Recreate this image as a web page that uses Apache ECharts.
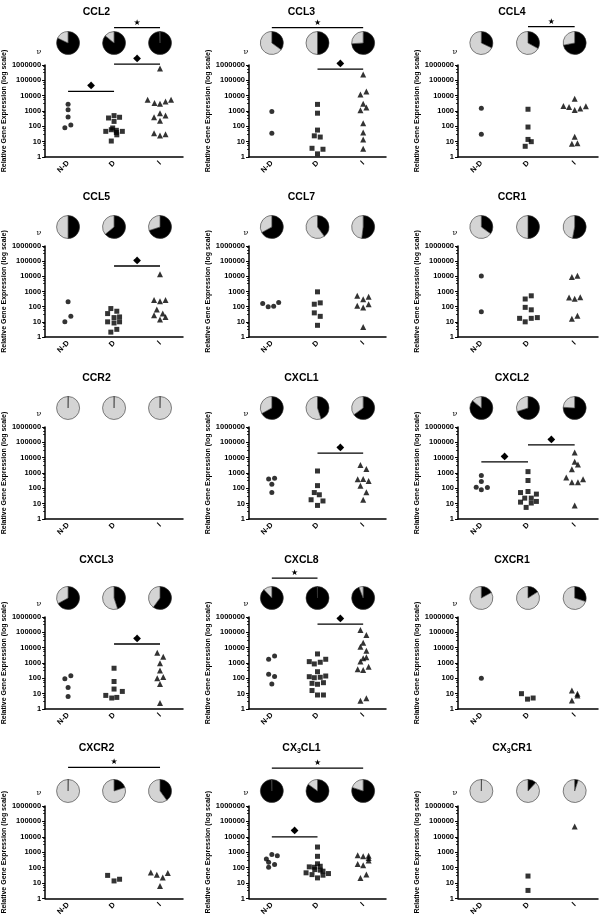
<!DOCTYPE html>
<html><head><meta charset="utf-8">
<script src="https://cdn.jsdelivr.net/npm/echarts@6/dist/echarts.min.js"></script>
<style>html,body{margin:0;padding:0;background:#fff}#c{width:600px;height:918px}</style>
</head><body><div id="c"></div>
<script>
// ---------- DATA ----------
const CATS = ['N-D', 'D', 'I'];
const GENES = ['CCL2','CCL3','CCL4','CCL5','CCL7','CCR1','CCR2','CXCL1','CXCL2','CXCL3','CXCL8','CXCR1','CXCR2','CX3CL1','CX3CR1'];
const TITLES = ['CCL2','CCL3','CCL4','CCL5','CCL7','CCR1','CCR2','CXCL1','CXCL2','CXCL3','CXCL8','CXCR1','CXCR2','CX{s|3}CL1','CX{s|3}CR1'];

// points: [relative expression, horizontal jitter in category units]
const CCL2_ND = [[2800,0],[1200,0],[400,0],[120,0.06],[80,-0.07]];
const CCL2_D  = [[500,0],[390,0.12],[350,-0.12],[210,0],[78,-0.03],[60,-0.06],[55,0.05],[47,-0.18],[47,0.18],[40,0.05],[28,0.06],[11,-0.06]];
const CCL2_I  = [[600000,0],[5500,-0.27],[3300,-0.12],[3000,0],[4200,0.12],[5500,0.24],[710,0],[390,-0.13],[500,0.12],[235,0],[36,-0.13],[25,0],[31,0.12]];

const CCL3_ND = [[930,0],[35,0]];
const CCL3_D  = [[2700,0],[720,0],[57,0],[24,-0.07],[20,0.06],[3.7,-0.12],[3.2,0.12],[1.6,0]];
const CCL3_I  = [[240000,0],[19000,0.07],[11700,-0.06],[3000,0],[1700,0.07],[1130,-0.06],[158,0],[40,0],[14,0],[3.5,0]];

const CCL4_ND = [[1500,0],[30,0]];
const CCL4_D  = [[1300,0],[90,0],[14,0],[10,0.07],[5,-0.06]];
const CCL4_I  = [[6300,0],[2100,-0.24],[1850,-0.12],[1180,0],[1450,0.12],[2050,0.24],[21,0],[7.3,-0.06],[8,0.06]];

const CCL5_ND = [[210,0],[23,0.06],[10,-0.07]];
const CCL5_D  = [[75,-0.07],[50,0.06],[35,-0.14],[19,0],[21,0.12],[10,-0.14],[8.4,0],[10,0.12],[3.2,0.06],[2.1,-0.07]];
const CCL5_I  = [[13500,0],[270,-0.13],[230,0],[270,0.12],[65,-0.07],[35,0.06],[27,-0.13],[14,0],[21,0.12]];

const CCL7_ND = [[160,-0.2],[97,-0.08],[107,0.04],[188,0.15]];
const CCL7_D  = [[950,0],[145,-0.07],[178,0.06],[39,-0.07],[23,0.06],[5.9,0]];
const CCL7_I  = [[520,-0.13],[310,0],[445,0.12],[113,-0.13],[87,0],[145,0.12],[4.6,0]];

const CCR1_ND = [[10500,0],[46,0]];
const CCR1_D  = [[320,-0.06],[520,0.07],[90,-0.06],[62,0.07],[17,-0.18],[10,-0.06],[17,0.07],[19,0.2]];
const CCR1_I  = [[9000,-0.06],[11000,0.06],[400,-0.12],[330,0],[420,0.12],[16,-0.06],[25,0.06]];

const CCR2_ND = [];
const CCR2_D  = [];
const CCR2_I  = [];

const CXCL1_ND = [[410,-0.07],[455,0.06],[185,0],[53,0]];
const CXCL1_D  = [[1350,0],[150,0],[53,-0.07],[38,0.04],[18,-0.14],[15,0.12],[7.7,0]];
const CXCL1_I  = [[3300,-0.06],[1830,0.07],[390,-0.12],[410,0],[305,0.12],[150,-0.06],[56,0.07],[18,0]];

const CXCL2_ND = [[680,0],[275,0],[118,-0.11],[112,0.13],[80,0]];
const CXCL2_D  = [[1230,0],[325,0],[53,-0.16],[62,0],[42,0.18],[23,-0.07],[23,0.07],[12.6,-0.16],[14,0.18],[11,0.07],[5.7,-0.04]];
const CXCL2_I  = [[22000,0],[5500,0],[3600,0.07],[1750,-0.06],[500,-0.18],[250,-0.06],[250,0.07],[390,0.18],[7.7,0]];

const CXCL3_ND = [[93,-0.07],[150,0.06],[25,0],[6.6,0]];
const CXCL3_D  = [[455,0],[62,0],[20,0],[7.7,-0.18],[5.2,-0.05],[5.7,0.06],[14,0.18]];
const CXCL3_I  = [[4700,-0.06],[2600,0.07],[960,0],[320,0],[102,-0.06],[120,0.07],[42,0],[2.5,0]];

const CXCL8_ND = [[1740,-0.07],[2900,0.06],[185,-0.07],[130,0.06],[42,0]];
const CXCL8_D  = [[3900,0],[1230,-0.18],[870,-0.07],[1120,0.06],[1750,0.18],[270,0],[128,-0.18],[110,-0.07],[117,0.06],[142,0.18],[47,-0.12],[41,0],[52,0.13],[16,-0.12],[8.2,0],[8.2,0.13]];
const CXCL8_I  = [[142000,-0.06],[67000,0.07],[21000,0],[11500,-0.06],[6300,0.07],[2030,0],[2350,0.07],[1230,-0.06],[390,-0.12],[350,0],[575,0.12],[3.5,-0.06],[5,0.07]];

const CXCR1_ND = [[100,0]];
const CXCR1_D  = [[10,-0.14],[4.4,-0.01],[5.2,0.11]];
const CXCR1_I  = [[16,-0.06],[10,0.06],[7.5,0.06],[3.6,-0.06]];

const CXCR2_ND = [];
const CXCR2_D  = [[32,-0.14],[14,0],[18,0.12]];
const CXCR2_I  = [[50,-0.2],[35,-0.07],[23,0.06],[46,0.17],[6.6,0]];

const CX3CL1_ND = [[370,-0.12],[710,0],[610,0.12],[228,-0.07],[160,0.06],[108,-0.07]];
const CX3CL1_D  = [[2200,0],[550,0],[180,0],[125,0.06],[108,-0.07],[70,0.06],[76,-0.06],[60,0.12],[114,-0.18],[47,-0.25],[36,-0.12],[22,0],[33,0.12],[42,0.24]];
const CX3CL1_I  = [[640,-0.12],[550,0],[610,0.12],[430,0.12],[290,0.12],[178,-0.12],[145,0],[36,0.07],[22,-0.06]];

const CX3CR1_ND = [];
const CX3CR1_D  = [[29,0],[3.4,0]];
const CX3CR1_I  = [[47000,0]];

// percent of samples expressing (black slice) for N-D, D, I
const PIE_CCL2 = [82, 86, 100];
const PIE_CCL3 = [35, 50, 74];
const PIE_CCL4 = [32, 33, 72];
const PIE_CCL5 = [50, 64, 70];
const PIE_CCL7 = [67, 40, 52];
const PIE_CCR1 = [35, 50, 53];
const PIE_CCR2 = [0, 0, 0];
const PIE_CXCL1 = [67, 45, 65];
const PIE_CXCL2 = [86, 70, 76];
const PIE_CXCL3 = [67, 45, 60];
const PIE_CXCL8 = [88, 100, 94];
const PIE_CXCR1 = [17, 16, 30];
const PIE_CXCR2 = [0, 20, 40];
const PIE_CX3CL1 = [100, 85, 80];
const PIE_CX3CR1 = [0, 12, 5];

// significance annotations: [gene, from, to, symbol, level as log10 of the axis value]
const SIG = [
  ['CCL2','D','I','★',8.44], ['CCL2','D','I','◆',6.06], ['CCL2','N-D','D','◆',4.28],
  ['CCL3','N-D','I','★',8.44], ['CCL3','D','I','◆',5.73],
  ['CCL4','D','I','★',8.5],
  ['CCL5','D','I','◆',4.68],
  ['CXCL1','D','I','◆',4.3],
  ['CXCL2','N-D','D','◆',3.72], ['CXCL2','D','I','◆',4.83],
  ['CXCL3','D','I','◆',4.24],
  ['CXCL8','N-D','D','★',8.54], ['CXCL8','D','I','◆',5.54],
  ['CXCR2','N-D','I','★',8.5],
  ['CX3CL1','N-D','I','★',8.45], ['CX3CL1','N-D','D','◆',4.0]
];

const PANELS = [
  [CCL2_ND, CCL2_D, CCL2_I, PIE_CCL2], [CCL3_ND, CCL3_D, CCL3_I, PIE_CCL3], [CCL4_ND, CCL4_D, CCL4_I, PIE_CCL4],
  [CCL5_ND, CCL5_D, CCL5_I, PIE_CCL5], [CCL7_ND, CCL7_D, CCL7_I, PIE_CCL7], [CCR1_ND, CCR1_D, CCR1_I, PIE_CCR1],
  [CCR2_ND, CCR2_D, CCR2_I, PIE_CCR2], [CXCL1_ND, CXCL1_D, CXCL1_I, PIE_CXCL1], [CXCL2_ND, CXCL2_D, CXCL2_I, PIE_CXCL2],
  [CXCL3_ND, CXCL3_D, CXCL3_I, PIE_CXCL3], [CXCL8_ND, CXCL8_D, CXCL8_I, PIE_CXCL8], [CXCR1_ND, CXCR1_D, CXCR1_I, PIE_CXCR1],
  [CXCR2_ND, CXCR2_D, CXCR2_I, PIE_CXCR2], [CX3CL1_ND, CX3CL1_D, CX3CL1_I, PIE_CX3CL1], [CX3CR1_ND, CX3CR1_D, CX3CR1_I, PIE_CX3CR1]
];

// ---------- LAYOUT ----------
const FONT = '"Liberation Sans", Arial, sans-serif';
const COL_LEFT = [42, 249, 458], COL_W = [141, 137, 140];
const ROW_TOP = [65, 246, 427, 617, 806], ROW_BOT = [157, 337, 519, 709, 899];
const TITLE_Y = [12, 197, 378, 560, 748], PIE_Y = [43, 227, 408, 598, 791];
const SYMBOLS = ['circle', 'rect', 'triangle'], SIZES = [5, 5, 6];

const chart = echarts.init(document.getElementById('c'), null, {renderer: 'canvas'});
const grid = [], xAxis = [], yAxis = [], series = [];
PANELS.forEach((p, i) => {
  const row = Math.floor(i / 3), col = i % 3;
  grid.push({left: COL_LEFT[col], width: COL_W[col], top: ROW_TOP[row], height: ROW_BOT[row] - ROW_TOP[row]});
  xAxis.push({type: 'category', gridIndex: i, data: CATS, boundaryGap: true,
    axisLine: {onZero: false, lineStyle: {color: '#000', width: 1.5}},
    axisTick: {alignWithLabel: true, length: 3, lineStyle: {color: '#000', width: 1.2}},
    axisLabel: {rotate: 45, fontSize: 7.5, fontWeight: 'bold', color: '#000', fontFamily: FONT, margin: 5},
    splitLine: {show: false}});
  xAxis.push({type: 'value', gridIndex: i, min: -0.5, max: 2.5, show: false});
  yAxis.push({type: 'log', logBase: 10, gridIndex: i, min: 1, max: 1000000, splitNumber: 6,
    axisLine: {show: true, onZero: false, lineStyle: {color: '#000', width: 1.5}},
    axisTick: {show: true, length: 3, lineStyle: {color: '#000', width: 1}},
    minorTick: {show: true, splitNumber: 4, length: 2, lineStyle: {color: '#000', width: 0.8}},
    splitLine: {show: false},
    axisLabel: {fontSize: 7.5, fontWeight: 'bold', color: '#000', fontFamily: FONT, margin: 4,
      formatter: v => String(Math.round(v))},
    name: 'Relative Gene Expression (log scale)', nameLocation: 'middle', nameGap: 33,
    nameTextStyle: {fontSize: 7, fontWeight: 'bold', color: '#000', fontFamily: FONT}});
  [0, 1, 2].forEach(g => {
    series.push({type: 'scatter', xAxisIndex: 2 * i + 1, yAxisIndex: i, symbol: SYMBOLS[g], symbolSize: SIZES[g],
      itemStyle: {color: '#000'}, silent: true, animation: false, clip: false,
      data: p[g].map(([v, dx]) => [g + dx, v])});
  });
});
chart.setOption({animation: false, grid, xAxis, yAxis, series});

// pies and annotations positioned through the axes
const graphic = [];
const allSeries = series.slice();
PANELS.forEach((p, i) => {
  const row = Math.floor(i / 3), col = i % 3;
  CATS.forEach((c, g) => {
    const x = chart.convertToPixel({xAxisIndex: 2 * i}, c);
    allSeries.push({type: 'pie', center: [x, PIE_Y[row]], radius: 11.5, startAngle: 90, clockwise: true,
      minAngle: 1, silent: true, animation: false, label: {show: false}, labelLine: {show: false},
      itemStyle: {borderColor: '#333', borderWidth: 0.6},
      data: [{value: p[3][g], itemStyle: {color: '#000'}}, {value: 100 - p[3][g], itemStyle: {color: '#d4d4d4'}}]});
  });
  const cx = COL_LEFT[col] + COL_W[col] / 2 - 16;
  graphic.push({type: 'text', x: cx, y: TITLE_Y[row], silent: true,
    style: {text: TITLES[i], fill: '#000', fontFamily: FONT, fontSize: 10.5, fontWeight: 'bold',
      align: 'center', verticalAlign: 'middle',
      rich: {s: {fontSize: 7, fontWeight: 'bold', fontFamily: FONT, fill: '#000', padding: [6, 0, 0, 0]}}}});
  graphic.push({type: 'text', x: COL_LEFT[col] - 3, y: ROW_TOP[row] - 13, silent: true,
    style: {text: 'ν', fill: '#000', fontFamily: '"DejaVu Serif", serif', fontSize: 8, align: 'center', verticalAlign: 'middle'}});
});
SIG.forEach(([gene, a, b, sym, lvl]) => {
  const i = GENES.indexOf(gene);
  const x1 = chart.convertToPixel({xAxisIndex: 2 * i}, a);
  const x2 = chart.convertToPixel({xAxisIndex: 2 * i}, b);
  const y = chart.convertToPixel({yAxisIndex: i}, Math.pow(10, lvl));
  graphic.push({type: 'line', silent: true, shape: {x1: x1, y1: y, x2: x2, y2: y}, style: {stroke: '#000', lineWidth: 1.3}});
  const star = sym === '★';
  graphic.push({type: 'text', silent: true, x: (x1 + x2) / 2, y: y - (star ? 5 : 6),
    style: {text: sym, fill: '#000', fontFamily: '"DejaVu Sans", sans-serif', fontSize: star ? 8 : 10, align: 'center', verticalAlign: 'middle'}});
});
chart.setOption({series: allSeries, graphic: graphic});
</script></body></html>
